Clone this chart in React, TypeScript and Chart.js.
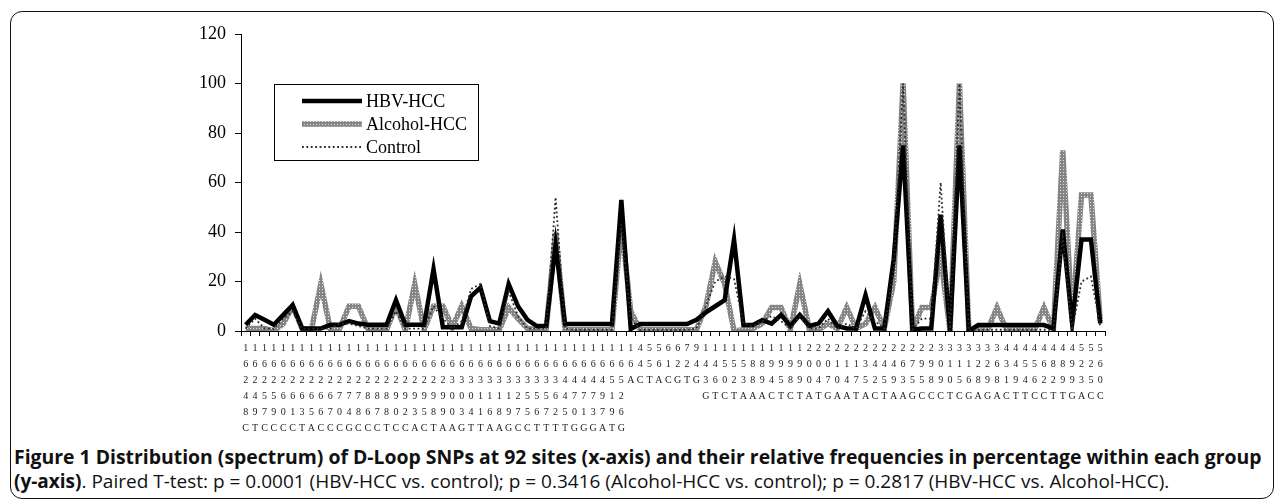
import React, { useEffect, useRef } from 'react';
import { Chart, registerables } from 'chart.js';

Chart.register(...registerables);

const sites: string[] = [
  '16248C','16249T','16257C','16259C','16260C','16261C','16263T','16265A','16266C','16267C',
  '16270C','16274G','16278C','16286C','16287C','16288T','16290C','16292C','16293A','16295C',
  '16298T','16299A','16300A','16303G','16304T','16311T','16316A','16318A','16319G','16327C',
  '16355C','16356T','16357T','16362T','16445T','16470G','16471G','16473G','16497A','16519T',
  '16526G','16A','44C','55T','56A','61C','62G','72T','94G','143G',
  '146T','150C','152T','153A','188A','189A','194C','195T','198C','199T',
  '200A','204T','207G','210A','214A','217T','235A','242C','245T','249A',
  '263A','275G','295C','298C','309C','310T','315C','316G','328A','329G',
  '368A','431C','449T','454T','456C','462C','482T','489T','499G','523A',
  '525C','560C',
];

const hbvHcc: number[] = [
  2.5, 6.5, 4.5, 2.5, 6.5, 10.5, 1, 1, 1, 2.5,
  2.5, 4, 3, 2.5, 2.5, 2.5, 12.5, 2.5, 2.5, 2.5,
  25, 1.5, 1.5, 1.5, 14, 17.5, 4, 3, 19, 10,
  4.5, 2, 2, 35, 2.8, 2.8, 2.8, 2.8, 2.8, 2.8,
  53, 0.8, 2.8, 2.8, 2.8, 2.8, 2.8, 2.8, 4.5, 7.5,
  10, 12.5, 37, 2.4, 2.4, 4.4, 3, 6.5, 2, 6.5,
  2, 3, 8, 2, 1, 1, 14.5, 1, 1, 29,
  75, 0.5, 1, 1, 47, 0, 75, 0, 2.4, 2.4,
  2.4, 2.4, 2.4, 2.4, 2.4, 2.4, 1, 41, 3, 37,
  37, 3,
];

const alcoholHcc: number[] = [
  1, 1, 1, 0, 3, 10, 1, 0.5, 19, 1,
  1, 10, 10, 1, 1, 0.5, 10, 0.5, 19, 0.5,
  10, 10, 1.5, 10, 1, 0.5, 0.5, 0.5, 9.5, 5,
  1, 0.5, 1, 40, 0.5, 0.5, 0.5, 0.5, 0.5, 0.5,
  43, 8, 0.5, 0.5, 0.5, 0.5, 0.5, 0.5, 0.5, 10,
  28, 19, 0, 0.5, 1, 3, 9.5, 9.5, 0.5, 19,
  1, 0.5, 3, 1, 9.5, 1, 3, 9.5, 1, 20,
  100, 0.5, 9.5, 9.5, 30, 0, 100, 0, 0.5, 0.5,
  9.5, 0.5, 0.5, 0.5, 0.5, 9.5, 0.5, 73, 4, 55,
  55, 4,
];

const control: number[] = [
  1, 5, 1, 1, 5, 8, 1, 1, 1, 1,
  3, 3, 2, 1, 1, 1, 8, 1, 1, 1,
  10, 5, 1, 4, 17, 19, 2, 1, 16, 6,
  1, 1, 1, 54, 1, 0.5, 0.5, 0.5, 0.5, 0.5,
  43, 5, 0.5, 0.5, 0.5, 0.5, 0.5, 0.5, 1, 10,
  20, 22, 21, 3, 2, 4, 6, 4, 1, 6,
  1, 1, 5, 1, 3, 1, 8, 4, 1, 25,
  100, 0.5, 5, 5, 60, 0, 100, 0, 0.5, 0.5,
  0.5, 0.5, 0.5, 0.5, 0.5, 0.5, 0.5, 38, 0.5, 20,
  22, 2,
];

const seriesNames: string[] = ['HBV-HCC', 'Alcohol-HCC', 'Control'];
const yMin = 0;
const yMax = 120;
const yStep = 20;

const captionBold1 =
  'Figure 1 Distribution (spectrum) of D-Loop SNPs at 92 sites (x-axis) and their relative frequencies in percentage within each group';
const captionBold2 = '(y-axis)';
const captionRest =
  '. Paired T-test: p = 0.0001 (HBV-HCC vs. control); p = 0.3416 (Alcohol-HCC vs. control); p = 0.2817 (HBV-HCC vs. Alcohol-HCC).';

function makePattern(): CanvasPattern | string {
  const c = document.createElement('canvas');
  c.width = 3;
  c.height = 3;
  const g = c.getContext('2d');
  if (!g) return '#888';
  g.fillStyle = '#858585';
  g.fillRect(0, 0, 3, 3);
  g.fillStyle = '#e0e0e0';
  g.fillRect(1, 1, 1, 1);
  const p = g.createPattern(c, 'repeat');
  return p || '#888';
}

const boxLegend = {
  id: 'boxLegend',
  afterDraw(chart: any) {
    const ctx = chart.ctx as CanvasRenderingContext2D;
    ctx.save();
    ctx.fillStyle = '#fff';
    ctx.fillRect(274.5, 84.5, 204, 76);
    ctx.strokeStyle = '#000';
    ctx.lineWidth = 1;
    ctx.strokeRect(274.5, 84.5, 204, 76);
    const rows = [101, 124, 147];
    chart.data.datasets.forEach((ds: any, i: number) => {
      ctx.beginPath();
      ctx.strokeStyle = ds.borderColor;
      ctx.lineWidth = ds.borderWidth;
      ctx.setLineDash(ds.borderDash || []);
      ctx.moveTo(302, rows[i]);
      ctx.lineTo(362, rows[i]);
      ctx.stroke();
      ctx.setLineDash([]);
      ctx.fillStyle = '#000';
      ctx.font = '18px "Liberation Serif", "Times New Roman", serif';
      ctx.textBaseline = 'middle';
      ctx.textAlign = 'left';
      ctx.fillText(ds.label, 366, rows[i] + 1);
    });
    ctx.restore();
  },
};

export default function App() {
  const ref = useRef<HTMLCanvasElement | null>(null);

  useEffect(() => {
    if (!ref.current) return;
    const pattern = makePattern();
    const chart = new Chart(ref.current, {
      type: 'line',
      data: {
        labels: sites.map((s) => s.split('')),
        datasets: [
          {
            label: seriesNames[0],
            data: hbvHcc,
            borderColor: '#000',
            borderWidth: 4.5,
            pointRadius: 0,
            tension: 0,
            fill: false,
            order: 1,
          },
          {
            label: seriesNames[1],
            data: alcoholHcc,
            borderColor: pattern as any,
            borderWidth: 5.5,
            pointRadius: 0,
            tension: 0,
            fill: false,
            order: 2,
          },
          {
            label: seriesNames[2],
            data: control,
            borderColor: '#2a2a2a',
            borderWidth: 1.8,
            borderDash: [1.8, 2.6],
            pointRadius: 0,
            tension: 0,
            fill: false,
            order: 0,
          },
        ],
      },
      options: {
        responsive: false,
        animation: false,
        devicePixelRatio: 1,
        layout: { padding: { left: 0, right: 179, top: 34, bottom: 0 } },
        plugins: {
          legend: { display: false },
          tooltip: { enabled: false },
          title: { display: false },
        },
        scales: {
          x: {
            type: 'category',
            offset: true,
            grid: {
              offset: true,
              drawOnChartArea: false,
              drawTicks: true,
              tickLength: 5,
              color: '#000',
            },
            border: { display: true, color: '#000', width: 1 },
            ticks: {
              autoSkip: false,
              maxRotation: 0,
              minRotation: 0,
              padding: 4,
              color: '#222',
              font: { family: '"Liberation Serif", "Times New Roman", serif', size: 10, lineHeight: 1.6 },
            },
            afterFit(scale: any) {
              scale.height = 109;
            },
          },
          y: {
            min: yMin,
            max: yMax,
            ticks: {
              stepSize: yStep,
              padding: 9,
              color: '#000',
              font: { family: '"Liberation Serif", "Times New Roman", serif', size: 18 },
            },
            grid: {
              drawOnChartArea: false,
              drawTicks: true,
              tickLength: 6,
              color: '#000',
            },
            border: { display: true, color: '#000', width: 1 },
            afterFit(scale: any) {
              scale.width = 241;
            },
          },
        },
      },
      plugins: [boxLegend],
    });
    return () => chart.destroy();
  }, []);

  return (
    <div>
      <div
        style={{
          position: 'absolute',
          left: 10,
          top: 11,
          width: 1264,
          height: 488,
          border: '1.5px solid #111',
          borderRadius: 12,
          boxSizing: 'border-box',
        }}
      />
      <canvas
        ref={ref}
        width={1284}
        height={440}
        style={{ position: 'absolute', left: 0, top: 0, width: 1284, height: 440 }}
      />
      <div
        style={{
          position: 'absolute',
          left: 14,
          top: 444,
          width: 1262,
          fontFamily: '"Open Sans", "Noto Sans", sans-serif',
          lineHeight: '25px',
          color: '#111',
          whiteSpace: 'nowrap',
        }}
      >
        <div style={{ fontWeight: 700, fontSize: 19.4 }}>{captionBold1}</div>
        <div style={{ fontSize: 19 }}>
          <span style={{ fontWeight: 700 }}>{captionBold2}</span>
          <span>{captionRest}</span>
        </div>
      </div>
    </div>
  );
}
